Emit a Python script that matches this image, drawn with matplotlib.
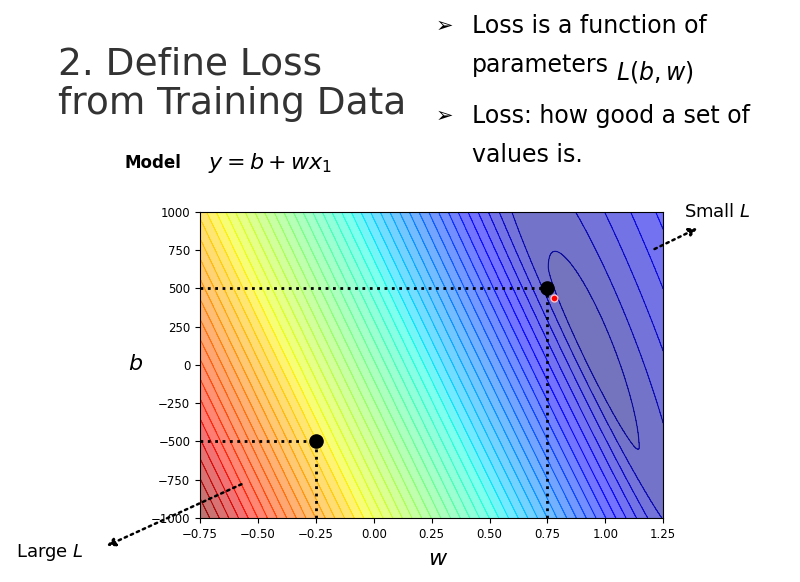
import numpy as np
import matplotlib
matplotlib.use("Agg")
import matplotlib.pyplot as plt

w_range = [-0.75, 1.25]
b_range = [-1000, 1000]
w_min, b_min, slope = 0.95, 50.0, 3000.0
points_w = [-0.25, 0.75]
points_b = [-500, 500]
red_w, red_b = 0.78, 440
xticks = [-0.75, -0.50, -0.25, 0.00, 0.25, 0.50, 0.75, 1.00, 1.25]
yticks = [1000, 750, 500, 250, 0, -250, -500, -750, -1000]

fig = plt.figure(figsize=(8, 5.82), dpi=100)
ax = fig.add_axes([0.25, 0.11, 0.579, 0.526])
W, B = np.meshgrid(np.linspace(*w_range, 400), np.linspace(*b_range, 400))
U = (B - b_min) + slope * (W - w_min)
U = np.where(U > 0, U * 0.35, U)
Z = np.sqrt(U ** 2 + (650 * (W - w_min)) ** 2)
lev = np.linspace(0, Z.max(), 50)
ax.contourf(W, B, Z, levels=lev, cmap="jet", alpha=0.55)
ax.contour(W, B, Z, levels=lev, cmap="jet", linewidths=0.8, alpha=0.8)
ax.set_xlim(*w_range); ax.set_ylim(*b_range)
ax.set_xticks(xticks); ax.set_yticks(yticks)
ax.tick_params(labelsize=8.5)
for pw, pb in zip(points_w, points_b):
    ax.plot([w_range[0], pw], [pb, pb], ':', color='k', lw=2)
    ax.plot([pw, pw], [b_range[0], pb], ':', color='k', lw=2)
ax.scatter(points_w, points_b, s=90, color='k', zorder=5)
ax.scatter([red_w], [red_b], s=25, color='red', edgecolor='pink', zorder=6)

fig.text(0.072, 0.855, "2. Define Loss\nfrom Training Data", fontsize=27, color='#333333',
         va='center', linespacing=1.15, family='DejaVu Sans')
fig.text(0.155, 0.72, "Model", fontsize=12, fontweight='bold', va='center')
fig.text(0.26, 0.72, r"$y = b + wx_1$", fontsize=16, va='center')
fig.text(0.545, 0.955, "➢", fontsize=15, va='center')
fig.text(0.59, 0.955, "Loss is a function of", fontsize=17, va='center')
fig.text(0.59, 0.888, "parameters", fontsize=17, va='center')
fig.text(0.77, 0.876, r"$L(b,w)$", fontsize=17, va='center')
fig.text(0.545, 0.80, "➢", fontsize=15, va='center')
fig.text(0.59, 0.80, "Loss: how good a set of", fontsize=17, va='center')
fig.text(0.59, 0.733, "values is.", fontsize=17, va='center')
fig.text(0.16, 0.375, r"$b$", fontsize=16, va='center')
fig.text(0.535, 0.04, r"$w$", fontsize=16, va='center')
fig.text(0.855, 0.635, r"Small $L$", fontsize=13, va='center')
fig.text(0.02, 0.05, r"Large $L$", fontsize=13, va='center')
fig.add_artist(matplotlib.patches.FancyArrowPatch((0.815, 0.57), (0.875, 0.61),
               transform=fig.transFigure, arrowstyle='-|>', linestyle=':', lw=1.8,
               mutation_scale=12, color='k'))
fig.add_artist(matplotlib.patches.FancyArrowPatch((0.305, 0.17), (0.13, 0.06),
               transform=fig.transFigure, arrowstyle='-|>', linestyle=':', lw=1.8,
               mutation_scale=12, color='k'))
fig.savefig("out.png")
